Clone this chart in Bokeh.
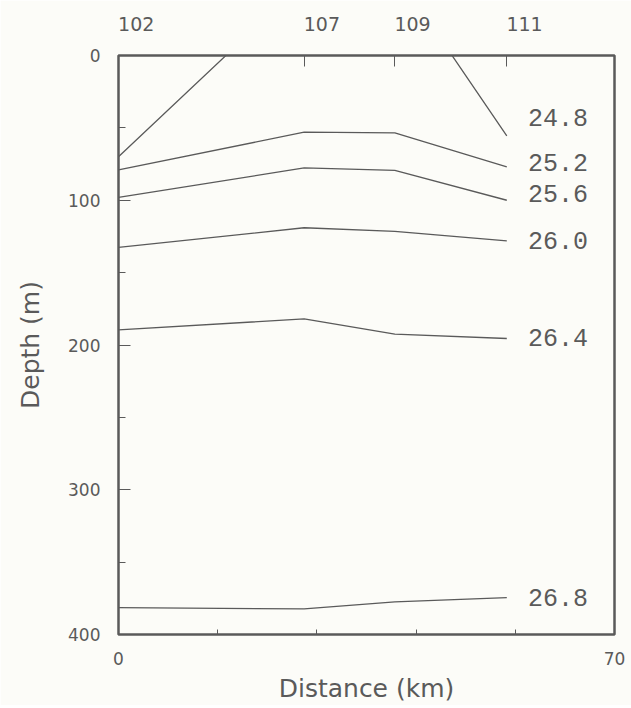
from bokeh.plotting import figure
from bokeh.models import Range1d, LinearAxis, FixedTicker, ColumnDataSource
from bokeh.core.properties import value
from bokeh.embed import file_html
from bokeh.resources import INLINE

# ---- data ----
stations = ["102", "107", "109", "111"]
station_km = [0.0, 26.2, 39.0, 54.8]

sigma_labels = ["24.8", "25.2", "25.6", "26.0", "26.4", "26.8"]
depth_248 = [70.0, -51.0, -58.0, 55.5]   # outcrops: above surface between 107 and 109
depth_252 = [79.0, 53.0, 53.5, 77.0]
depth_256 = [98.0, 77.7, 79.4, 100.0]
depth_260 = [132.5, 119.0, 121.5, 128.0]
depth_264 = [189.5, 182.0, 192.5, 195.5]
depth_268 = [381.5, 382.3, 377.5, 374.5]
label_depth = [42.6, 73.7, 95.5, 127.8, 194.6, 374.6]
label_km = 57.8

depth_ticks = [0, 100, 200, 300, 400]
depth_minor = [50, 150, 250, 350]
dist_ticks = [0, 70]
dist_minor = [14, 28, 42, 56]

INK = "#5a5a5a"
BG = "#fcfcf8"
STATION_LABEL_SHIFT = 2.5   # km: station names are drawn starting at their tick

p = figure(frame_width=496, frame_height=579,
           x_range=Range1d(0, 70), y_range=Range1d(400, 0),
           output_backend="svg", toolbar_location=None,
           min_border_left=118, min_border_right=17,
           min_border_top=55, min_border_bottom=70)
p.grid.visible = False
p.background_fill_color = BG
p.border_fill_color = BG
p.outline_line_color = INK
p.outline_line_width = 2.5

# bottom axis
xa = p.xaxis[0]
xa.ticker = FixedTicker(ticks=dist_ticks, minor_ticks=dist_minor)
xa.major_tick_in = 5
xa.major_tick_out = 0
xa.minor_tick_in = 5
xa.minor_tick_out = 0
xa.minor_tick_line_color = INK
xa.axis_line_color = None
xa.major_tick_line_color = INK
xa.major_label_standoff = 17
xa.major_label_text_font = "DejaVu Sans"
xa.major_label_text_font_size = "17px"
xa.major_label_text_color = INK
xa.axis_label = "Distance (km)"
xa.axis_label_text_font = "DejaVu Sans"
xa.axis_label_text_font_size = "25px"
xa.axis_label_text_font_style = "normal"
xa.axis_label_text_color = INK
xa.axis_label_standoff = 6

# left axis
ya = p.yaxis[0]
ya.ticker = FixedTicker(ticks=depth_ticks, minor_ticks=depth_minor)
ya.major_tick_in = 12
ya.major_tick_out = 0
ya.minor_tick_in = 7
ya.minor_tick_out = 0
ya.major_tick_line_color = INK
ya.minor_tick_line_color = INK
ya.axis_line_color = None
ya.major_label_standoff = 18
ya.major_label_text_font = "DejaVu Sans"
ya.major_label_text_font_size = "17px"
ya.major_label_text_color = INK
ya.axis_label = "Depth (m)"
ya.axis_label_text_font = "DejaVu Sans"
ya.axis_label_text_font_size = "25px"
ya.axis_label_text_font_style = "normal"
ya.axis_label_text_color = INK
ya.axis_label_standoff = 20

# top axis: station ticks (minor) and station names (major, label only)
name_pos = [round(k + STATION_LABEL_SHIFT, 3) for k in station_km]
ta = LinearAxis(ticker=FixedTicker(ticks=name_pos, minor_ticks=station_km[1:]))
ta.major_label_overrides = {pos: name for pos, name in zip(name_pos, stations)}
ta.major_tick_line_color = None
ta.major_tick_in = 0
ta.major_tick_out = 0
ta.minor_tick_in = 11
ta.minor_tick_out = 0
ta.minor_tick_line_color = INK
ta.axis_line_color = None
ta.major_label_standoff = 25
ta.major_label_text_font = "DejaVu Sans"
ta.major_label_text_font_size = "19px"
ta.major_label_text_color = INK
p.add_layout(ta, "above")

# isopycnals
for d in [depth_248, depth_252, depth_256, depth_260, depth_264, depth_268]:
    p.line(station_km, d, line_color=INK, line_width=1.3)

src = ColumnDataSource(dict(x=[label_km] * len(sigma_labels), y=label_depth, t=sigma_labels))
p.text(x="x", y="y", text="t", source=src, text_font=value("Liberation Mono"),
       text_font_size="25px", text_color=INK, text_align="left", text_baseline="middle")

open("out.html", "w").write(file_html(p, INLINE))
